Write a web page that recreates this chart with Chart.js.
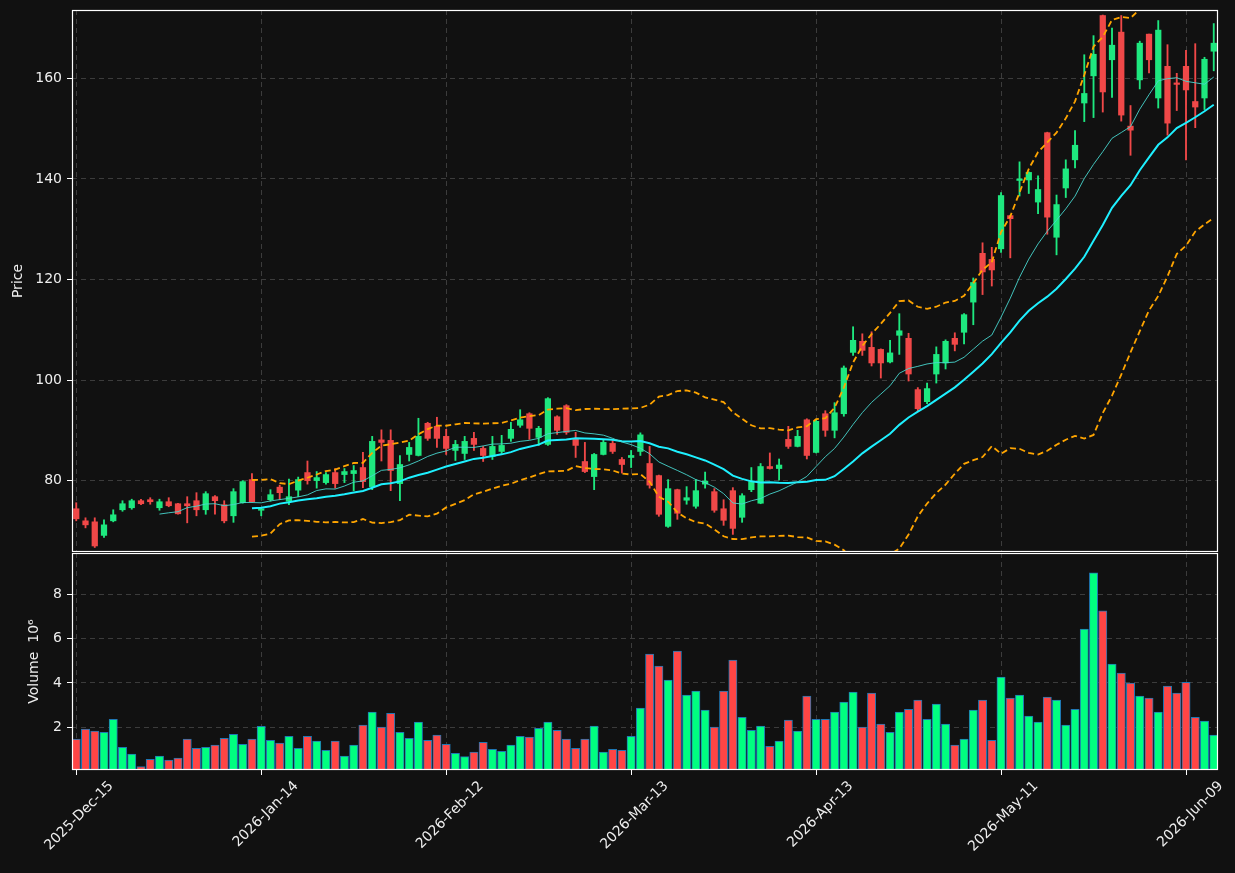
<!DOCTYPE html>
<html><head><meta charset="utf-8">
<script src="https://cdn.jsdelivr.net/npm/chart.js@4.4.1/dist/chart.umd.min.js"></script>
<style>
html,body{margin:0;padding:0;background:#111111;overflow:hidden;}
#wrap{position:relative;width:1235px;height:873px;background:#111111;}
#c1{position:absolute;left:0;top:0;}
#c2{position:absolute;left:0;top:553px;}
</style></head><body>
<div id="wrap">
<canvas id="c1" width="1235" height="553"></canvas>
<canvas id="c2" width="1235" height="320"></canvas>
</div>
<script>
const dates = [
"2025-Dec-15","2025-Dec-16","2025-Dec-17","2025-Dec-18","2025-Dec-19","2025-Dec-22","2025-Dec-23","2025-Dec-24","2025-Dec-26","2025-Dec-29","2025-Dec-30","2025-Dec-31",
"2026-Jan-02","2026-Jan-05","2026-Jan-06","2026-Jan-07","2026-Jan-08","2026-Jan-09","2026-Jan-12","2026-Jan-13","2026-Jan-14","2026-Jan-15","2026-Jan-16","2026-Jan-20","2026-Jan-21","2026-Jan-22","2026-Jan-23","2026-Jan-26","2026-Jan-27","2026-Jan-28","2026-Jan-29","2026-Jan-30",
"2026-Feb-02","2026-Feb-03","2026-Feb-04","2026-Feb-05","2026-Feb-06","2026-Feb-09","2026-Feb-10","2026-Feb-11","2026-Feb-12","2026-Feb-13","2026-Feb-17","2026-Feb-18","2026-Feb-19","2026-Feb-20","2026-Feb-23","2026-Feb-24","2026-Feb-25","2026-Feb-26","2026-Feb-27",
"2026-Mar-02","2026-Mar-03","2026-Mar-04","2026-Mar-05","2026-Mar-06","2026-Mar-09","2026-Mar-10","2026-Mar-11","2026-Mar-12","2026-Mar-13","2026-Mar-16","2026-Mar-17","2026-Mar-18","2026-Mar-19","2026-Mar-20","2026-Mar-23","2026-Mar-24","2026-Mar-25","2026-Mar-26","2026-Mar-27","2026-Mar-30","2026-Mar-31",
"2026-Apr-01","2026-Apr-02","2026-Apr-06","2026-Apr-07","2026-Apr-08","2026-Apr-09","2026-Apr-10","2026-Apr-13","2026-Apr-14","2026-Apr-15","2026-Apr-16","2026-Apr-17","2026-Apr-20","2026-Apr-21","2026-Apr-22","2026-Apr-23","2026-Apr-24","2026-Apr-27","2026-Apr-28","2026-Apr-29","2026-Apr-30",
"2026-May-01","2026-May-04","2026-May-05","2026-May-06","2026-May-07","2026-May-08","2026-May-11","2026-May-12","2026-May-13","2026-May-14","2026-May-15","2026-May-18","2026-May-19","2026-May-20","2026-May-21","2026-May-22","2026-May-26","2026-May-27","2026-May-28","2026-May-29",
"2026-Jun-01","2026-Jun-02","2026-Jun-03","2026-Jun-04","2026-Jun-05","2026-Jun-08","2026-Jun-09","2026-Jun-10","2026-Jun-11","2026-Jun-12"
];
const opens = [
74.4,72.0,71.8,69.1,72.0,74.2,74.6,76.0,76.2,74.6,75.8,75.4,75.4,76.0,74.2,76.8,75.2,73.0,75.6,80.2,
74.1,76.2,78.7,75.9,78.1,81.6,80.0,79.6,81.6,81.2,81.4,82.6,78.8,88.1,88.0,79.4,85.2,85.0,91.4,90.8,
88.8,86.0,85.4,88.4,86.4,84.8,85.8,88.4,91.0,93.3,88.6,87.2,92.7,94.9,88.4,83.8,80.8,85.2,87.4,84.2,
84.6,85.8,83.4,81.0,70.9,78.2,76.1,74.9,79.3,77.8,74.4,78.0,72.7,78.2,75.5,82.8,82.4,88.2,86.8,92.1,
85.6,93.3,90.0,93.3,105.5,107.7,106.5,106.1,103.6,108.9,108.3,98.1,95.7,101.2,103.4,108.3,109.5,115.5,125.2,124.0,
126.1,132.7,139.7,139.8,135.4,149.2,128.4,138.2,143.8,155.1,160.5,172.5,163.7,169.2,150.5,159.7,168.8,156.1,162.4,159.0,
162.4,155.4,156.1,165.4
];
const highs = [
75.6,72.6,72.6,72.2,74.2,76.0,76.3,76.3,76.6,76.3,76.6,75.5,76.8,77.6,77.8,77.0,76.0,78.4,80.0,81.4,
74.7,78.2,79.1,80.3,80.7,83.9,81.8,81.6,82.4,82.4,83.0,85.6,88.8,90.1,90.1,85.0,87.6,92.4,91.6,92.6,
90.2,88.0,88.8,89.6,86.8,88.8,89.0,91.6,94.1,93.5,90.8,96.5,92.9,95.1,89.6,87.6,85.4,88.2,88.0,84.6,
86.0,89.5,86.8,81.1,80.2,78.3,78.8,80.2,81.7,78.4,76.2,78.6,77.4,82.6,83.4,85.5,84.3,90.8,90.0,92.3,
92.0,93.9,95.5,102.8,110.6,109.2,109.6,106.2,107.9,113.2,109.3,98.5,99.4,106.6,108.0,109.4,113.2,120.3,127.3,126.4,
137.3,132.8,143.4,141.4,140.6,149.3,136.8,143.8,149.6,164.7,168.5,172.6,170.0,172.5,154.6,167.4,168.8,171.5,166.7,161.0,
165.6,166.9,164.2,170.9
];
const lows = [
72.0,70.6,66.7,68.7,71.8,73.9,74.3,75.2,75.3,74.1,74.8,73.3,71.6,73.0,73.3,73.3,71.6,71.7,75.5,75.7,
73.0,75.9,76.2,75.2,76.8,79.3,78.5,79.3,78.5,79.6,78.0,78.6,78.2,83.9,78.0,76.0,83.9,84.9,88.0,86.6,
85.2,84.0,84.2,86.0,83.8,84.2,85.4,87.8,90.6,88.2,87.0,87.0,89.2,89.2,84.6,81.6,78.2,85.1,85.4,81.5,
82.6,85.0,78.5,72.9,70.7,72.3,75.3,74.5,78.5,73.7,71.1,69.3,71.7,77.8,75.4,82.3,80.1,86.4,86.7,84.3,
85.5,88.8,88.5,92.8,104.9,104.9,102.8,100.4,103.4,105.1,99.8,93.7,95.3,99.4,102.2,105.8,107.2,111.0,117.0,118.7,
125.4,124.3,136.6,137.1,133.1,129.0,124.9,136.3,142.2,151.4,152.2,153.3,156.2,151.5,144.7,157.9,161.1,154.1,148.7,153.6,
143.8,150.2,153.8,161.5
];
const closes = [
72.4,71.2,67.0,71.2,73.2,75.4,76.0,75.4,75.8,75.8,75.0,73.4,75.0,74.2,77.4,76.0,72.0,77.8,79.8,75.8,
74.4,77.2,77.6,76.8,80.2,80.0,80.6,81.2,79.4,81.8,82.0,79.8,87.8,87.6,82.0,83.2,86.6,88.8,88.4,88.4,
86.4,87.2,87.8,87.2,85.0,86.8,87.0,90.2,92.1,90.4,90.4,96.3,90.0,89.6,87.0,81.8,85.2,87.6,85.8,83.2,
85.0,89.1,79.1,73.3,78.4,73.5,76.6,78.0,79.9,74.1,72.1,70.5,77.0,79.8,82.8,82.4,83.1,86.8,88.8,85.0,
91.8,90.0,93.5,102.4,107.9,105.9,103.4,103.4,105.4,109.8,101.2,94.3,98.3,105.1,107.7,107.1,113.0,119.4,121.5,121.9,
136.7,132.1,139.9,141.3,137.9,132.4,134.9,142.0,146.7,157.0,164.8,157.3,166.6,152.7,149.7,167.0,163.7,169.6,151.1,158.8,
157.7,154.3,163.8,167.0
];
const volumes = [
1.46,1.91,1.82,1.77,2.36,1.09,0.78,0.22,0.55,0.69,0.51,0.60,1.46,1.05,1.09,1.19,1.50,1.68,1.23,1.46,
2.04,1.41,1.28,1.59,1.05,1.59,1.37,0.96,1.37,0.69,1.19,2.09,2.68,2.00,2.63,1.77,1.50,2.23,1.41,1.64,
1.23,0.82,0.67,0.87,1.32,1.00,0.91,1.19,1.59,1.55,1.95,2.23,1.86,1.46,1.05,1.46,2.05,0.87,1.00,0.96,
1.59,2.86,5.30,4.76,4.13,5.44,3.45,3.63,2.77,2.00,3.63,5.03,2.45,1.86,2.05,1.14,1.37,2.32,1.82,3.40,
2.36,2.36,2.68,3.13,3.58,2.00,3.54,2.14,1.77,2.68,2.81,3.22,2.36,3.04,2.14,1.19,1.46,2.77,3.22,1.41,
4.26,3.31,3.45,2.50,2.23,3.36,3.22,2.09,2.81,6.43,8.97,7.25,4.85,4.44,3.99,3.40,3.31,2.68,3.86,3.54,
4.03,2.45,2.27,1.64
];
const xTickIndex = [0,20,40,60,80,100,120];
const priceTicks = [80,100,120,140,160];
const volumeTicks = [2,4,6,8];

const UP = '#1ee87f', DOWN = '#f04848';
const VUP = '#00ff80', VDOWN = '#ff4545';
const FONT = {family:"'DejaVu Sans', sans-serif", size:14};
const TXT = '#eeeeee';
const GRID = '#3c3c3c';

function rollingMean(arr, n){
  return arr.map((_, i) => {
    if (i < n-1) return null;
    let s = 0; for (let k=i-n+1;k<=i;k++) s += arr[k];
    return s/n;
  });
}
function rollingStd(arr, n){
  return arr.map((_, i) => {
    if (i < n-1) return null;
    let s = 0; for (let k=i-n+1;k<=i;k++) s += arr[k];
    const m = s/n; let v = 0;
    for (let k=i-n+1;k<=i;k++) v += (arr[k]-m)*(arr[k]-m);
    return Math.sqrt(v/(n-1));
  });
}
const ma10 = rollingMean(closes, 10);
const ma20 = rollingMean(closes, 20);
const sd20 = rollingStd(closes, 20);
const bbUp = ma20.map((m,i)=> m===null?null:m+2*sd20[i]);
const bbLo = ma20.map((m,i)=> m===null?null:m-2*sd20[i]);

const idx = closes.map((_, i) => i);
const isUp = idx.map(i => closes[i] >= opens[i]);
const candleColors = isUp.map(u => u ? UP : DOWN);
const volColors = isUp.map(u => u ? VUP : VDOWN);

const frame = {
  id: 'frame',
  afterDraw(chart){
    const {ctx, chartArea:a} = chart;
    ctx.save();
    ctx.strokeStyle = '#ffffff';
    ctx.lineWidth = 1.2;
    ctx.strokeRect(a.left+0.5, a.top+0.5, a.right-a.left-1, a.bottom-a.top-1);
    ctx.restore();
  }
};

function noPad(ax){ ax.paddingTop = 0; ax.paddingBottom = 0; ax.paddingLeft = 0; ax.paddingRight = 0; }

const xBase = {
  type:'linear', min:-0.46, max:123.46, offset:false,
  afterBuildTicks: ax => { ax.ticks = xTickIndex.map(v => ({value:v})); },
  border:{display:false, dash:[5,4]},
};

const lineDs = (data, color, width, dash, order) => ({
  type:'line', data: idx.map(i => ({x:i, y:data[i]})), borderColor: color, borderWidth: width,
  borderDash: dash, pointRadius:0, tension:0, spanGaps:false, clip:0, order
});

new Chart(document.getElementById('c1'), {
  type:'bar',
  data:{ datasets:[
    { type:'bar', data: idx.map(i => ({x:i, y:[lows[i], highs[i]]})), backgroundColor: candleColors,
      barThickness:1.2, grouped:false, borderWidth:0, clip:0, order:6 },
    { type:'bar', data: idx.map(i => ({x:i, y:[Math.min(opens[i],closes[i]), Math.max(opens[i],closes[i])]})),
      backgroundColor: candleColors, barThickness:5.6, grouped:false, borderWidth:0, minBarLength:1.5, clip:0, order:5 },
    lineDs(bbLo, '#ffa500', 1.8, [6,3.5], 4),
    lineDs(bbUp, '#ffa500', 1.8, [6,3.5], 3),
    lineDs(ma20, '#1ef0ff', 2, [], 2),
    lineDs(ma10, 'rgba(72,214,206,0.9)', 1, [], 1),
  ]},
  options:{
    responsive:false, animation:false, events:[],
    layout:{padding:{top:10, right:17, bottom:1, left:0}},
    plugins:{legend:{display:false}, tooltip:{enabled:false}},
    scales:{
      x: Object.assign({}, xBase, {
        ticks:{display:false},
        grid:{color:GRID, drawTicks:false, lineWidth:1, offset:false},
        afterFit: ax => { ax.height = 0; noPad(ax); }
      }),
      y: {
        type:'linear', min:65.8, max:173.6,
        afterBuildTicks: ax => { ax.ticks = priceTicks.map(v => ({value:v})); },
        ticks:{color:TXT, font:FONT, padding:5},
        grid:{color:GRID, tickColor:'#ffffff', tickLength:5, tickWidth:1, lineWidth:1},
        border:{display:false, dash:[5,4]},
        title:{display:true, text:'Price', color:TXT, font:FONT, padding:{top:10, bottom:0}},
        afterFit: ax => { ax.width = 72; noPad(ax); }
      }
    }
  },
  plugins:[frame]
});

new Chart(document.getElementById('c2'), {
  type:'bar',
  data:{ datasets:[
    { data: idx.map(i => ({x:i, y:volumes[i]})), backgroundColor: volColors, borderColor:'#1f77b4',
      borderWidth:1, borderSkipped:false, barThickness:8.3, grouped:false, clip:0 }
  ]},
  options:{
    responsive:false, animation:false, events:[],
    layout:{padding:{top:0, right:17, bottom:0, left:0}},
    plugins:{legend:{display:false}, tooltip:{enabled:false}},
    scales:{
      x: Object.assign({}, xBase, {
        ticks:{display:true, color:TXT, font:FONT, minRotation:45, maxRotation:45, autoSkip:false, padding:3,
          labelOffset:35, callback: v => dates[v] !== undefined ? dates[v] : ''},
        grid:{color:GRID, tickColor:'#ffffff', tickLength:5, tickWidth:1, lineWidth:1, offset:false},
        afterFit: ax => { ax.height = 103; noPad(ax); }
      }),
      y: {
        type:'linear', min: 0.3*Math.min(...volumes), max: 1.1*Math.max(...volumes),
        afterBuildTicks: ax => { ax.ticks = volumeTicks.map(v => ({value:v})); },
        ticks:{color:TXT, font:FONT, padding:5},
        grid:{color:GRID, tickColor:'#ffffff', tickLength:5, tickWidth:1, lineWidth:1},
        border:{display:false, dash:[5,4]},
        title:{display:true, text:'Volume  10\u2076', color:TXT, font:FONT, padding:{top:26, bottom:0}},
        afterFit: ax => { ax.width = 72; noPad(ax); }
      }
    }
  },
  plugins:[frame]
});
</script>
</body></html>
